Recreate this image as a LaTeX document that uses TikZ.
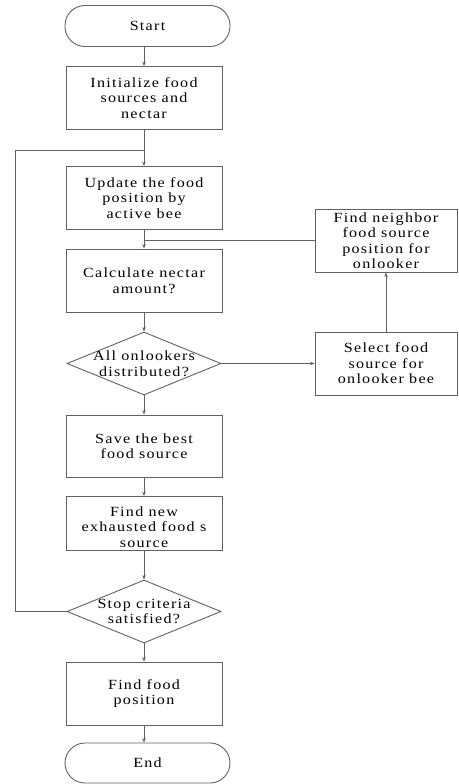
\documentclass[tikz,border=0pt]{standalone}
\usepackage{fontspec}
\setmainfont{Liberation Serif}[FakeStretch=1.15,LetterSpace=9]
\usetikzlibrary{shapes.geometric,arrows.meta}
\begin{document}
\begin{tikzpicture}[x=1pt,y=1pt,
  flow/.style={draw=black!62, line width=0.9pt},
  stepbox/.style={flow, rectangle, minimum width=156, minimum height=63, inner sep=0pt, align=center},
  sidebox/.style={stepbox, minimum width=142},
  term/.style={flow, rectangle, rounded corners=20, minimum width=165, minimum height=41, inner sep=0pt},
  decide/.style={flow, diamond, minimum width=154, minimum height=63, inner sep=0pt},
  txt/.style={inner sep=0pt, align=center},
  link/.style={draw=black!62, line width=0.9pt},
  arr/.style={link, -{Stealth[length=4.5pt,width=3.5pt]}},
  every node/.append style={font=\fontsize{14}{15.5}\selectfont}
]
\useasboundingbox (0,0) rectangle (458,-784);

% main column
\node[term] (start) at (147.5,-26) {Start};
\node[stepbox] (init) at (144,-98) {Initialize food\\sources and\\nectar};
\node[stepbox] (update) at (144,-198) {Update the food\\position by\\active bee};
\node[stepbox] (calc) at (144,-280.5) {Calculate nectar\\amount?};
\node[decide] (d1) at (144,-363.5) {};
\node[txt] (d1t) at (d1.center) {All onlookers\\distributed?};
\node[stepbox, minimum height=62] (save) at (144,-446) {Save the best\\food source};
\node[stepbox, minimum height=54] (findnew) at (144,-523.5) {};
\node[txt] (findnewt) at (144,-527) {Find new\\exhausted food s\\source};
\node[decide] (d2) at (144,-611.5) {};
\node[txt] (d2t) at (d2.center) {Stop criteria\\satisfied?};
\node[stepbox] (findfood) at (144,-693.5) {Find food\\position};
\node[term, minimum height=40] (end) at (147.5,-763) {End};

% onlooker branch
\node[sidebox] (select) at (386,-363.5) {Select food\\source for\\onlooker bee};
\node[sidebox] (neighbor) at (386,-240.5) {Find neighbor\\food source\\position for\\onlooker};

% junction points on the main column
\coordinate (j1) at (144,-150);
\coordinate (j2) at (144,-240.5);
\coordinate (loopA) at (15,-611.5);
\coordinate (loopB) at (15,-150);

% connectors
\draw[arr] (start.south -| init.north) -- (init.north);
\draw[arr] (init) -- (update);
\draw[arr] (update) -- (calc);
\draw[arr] (calc) -- (d1);
\draw[arr] (d1) -- (save);
\draw[arr] (save) -- (findnew);
\draw[arr] (findnew) -- (d2);
\draw[arr] (d2) -- (findfood);
\draw[arr] (findfood.south) -- (findfood.south |- end.north);

\draw[arr] (d1.east) -- (select.west);
\draw[arr] (select) -- (neighbor);
\draw[link] (neighbor.west) -- (j2);

\draw[link] (d2.west) -- (loopA) -- (loopB) -- (j1);
\end{tikzpicture}
\end{document}
